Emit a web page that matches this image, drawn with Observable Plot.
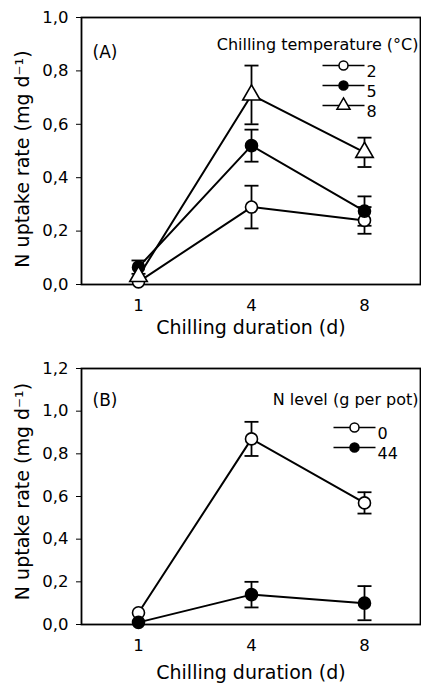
<!DOCTYPE html>
<html><head><meta charset="utf-8">
<script src="https://cdn.jsdelivr.net/npm/d3@7"></script>
<script src="https://cdn.jsdelivr.net/npm/@observablehq/plot@0.6"></script>
<style>body{margin:0;background:#fff} svg{display:block}</style>
</head><body><div id="chart"></div>
<script>
// ---- data ----
const durations = [1, 4, 8];
const xTitle = "Chilling duration (d)";
const yTitle = "N uptake rate (mg d\u207B\u00B9)";

// Panel A: chilling temperature (°C)
const panelALabel = "(A)";
const legendATitle = "Chilling temperature (°C)";
const tempLevels = ["2", "5", "8"];
const upA2 = [0.01, 0.29, 0.24];
const errA2 = [0.0, 0.08, 0.05];
const upA5 = [0.065, 0.52, 0.275];
const errA5 = [0.025, 0.06, 0.055];
const upA8 = [0.03, 0.71, 0.495];
const errA8 = [0.0, 0.11, 0.055];
const ticksA = [0, 0.2, 0.4, 0.6, 0.8, 1.0];

// Panel B: N level (g per pot)
const panelBLabel = "(B)";
const legendBTitle = "N level (g per pot)";
const nLevels = ["0", "44"];
const upB0 = [0.055, 0.87, 0.57];
const errB0 = [0.0, 0.08, 0.05];
const upB44 = [0.01, 0.14, 0.10];
const errB44 = [0.0, 0.06, 0.08];
const ticksB = [0, 0.2, 0.4, 0.6, 0.8, 1.0, 1.2];

// ---- drawing ----
const capSym = {draw(ctx) { ctx.moveTo(-7, 0); ctx.lineTo(7, 0); }};
const legLine = {draw(ctx) { ctx.moveTo(-21, 0); ctx.lineTo(21, 0); }};
const fmt = d => d.toFixed(1).replace(".", ",");

function panel(o) {
  const marks = [Plot.frame({stroke: "black", strokeWidth: 1.8})];
  o.series.forEach((s) => {
    const rows = durations.map((d, i) => ({d, v: s.v[i], lo: s.v[i] - s.e[i], hi: s.v[i] + s.e[i], e: s.e[i]}));
    const eb = rows.filter(r => r.e > 0);
    marks.push(
      Plot.ruleX(eb, {x: "d", y1: "lo", y2: "hi", stroke: "black", strokeWidth: 1.8}),
      Plot.dot(eb, {x: "d", y: "hi", symbol: capSym, stroke: "black", strokeWidth: 1.8}),
      Plot.dot(eb, {x: "d", y: "lo", symbol: capSym, stroke: "black", strokeWidth: 1.8}),
      Plot.line(rows, {x: "d", y: "v", stroke: "black", strokeWidth: 2})
    );
  });
  o.series.forEach((s, k) => {
    const rows = durations.map((d, i) => ({d, v: s.v[i]}));
    marks.push(Plot.dot(rows, {x: "d", y: "v", symbol: s.symbol, r: s.r, fill: s.fill, stroke: "black", strokeWidth: 1.6}));
    const dy = o.legDy0 + k * o.legStep;
    marks.push(
      Plot.dot([0], {frameAnchor: "top-right", dx: o.legDx, dy, symbol: legLine, stroke: "black", strokeWidth: 1.6}),
      Plot.dot([0], {frameAnchor: "top-right", dx: o.legDx, dy, symbol: s.symbol, r: s.r * 0.75, fill: s.fill, stroke: "black", strokeWidth: 1.5}),
      Plot.text([s.name], {text: d => d, frameAnchor: "top-right", dx: o.legDx + 23, dy, textAnchor: "start", fontSize: 16})
    );
  });
  marks.push(
    Plot.text([o.legTitle], {text: d => d, frameAnchor: "top-right", dx: -2, dy: o.legTitleDy, textAnchor: "end", fontSize: 16}),
    Plot.text([o.label], {text: d => d, frameAnchor: "top-left", dx: 11, dy: o.labelDy, textAnchor: "start", fontSize: 17}),
    Plot.text([xTitle], {text: d => d, frameAnchor: "bottom", dy: o.xTitleDy, textAnchor: "middle", fontSize: 19}),
    Plot.text([yTitle], {text: d => d, frameAnchor: "left", dx: -59, dy: o.yTitleDy, rotate: -90, textAnchor: "middle", fontSize: 19})
  );
  return Plot.plot({
    width: 421, height: 345,
    marginLeft: 81, marginRight: 1, marginTop: o.mt, marginBottom: o.mb,
    style: {fontFamily: "DejaVu Sans, Verdana, sans-serif", fontSize: "16.5px", color: "black", background: "white", overflow: "visible"},
    x: {type: "point", domain: durations, padding: 0.5, tickSize: 0, tickPadding: 15, label: null},
    y: {domain: [0, o.ymax], ticks: o.ticks, tickFormat: fmt, tickSize: 5, tickPadding: 8, label: null},
    marks
  });
}

const chart = document.getElementById("chart");
chart.appendChild(panel({
  series: [
    {name: tempLevels[0], v: upA2, e: errA2, symbol: "circle", fill: "white", r: 6},
    {name: tempLevels[1], v: upA5, e: errA5, symbol: "circle", fill: "black", r: 6},
    {name: tempLevels[2], v: upA8, e: errA8, symbol: "triangle", fill: "white", r: 6.5}
  ],
  ticks: ticksA, ymax: 1.0, mt: 17, mb: 61,
  label: panelALabel, labelDy: 28, legTitle: legendATitle, legTitleDy: 21, legDx: -77, legDy0: 48, legStep: 20,
  xTitleDy: 49, yTitleDy: 8
}));
chart.appendChild(panel({
  series: [
    {name: nLevels[0], v: upB0, e: errB0, symbol: "circle", fill: "white", r: 6},
    {name: nLevels[1], v: upB44, e: errB44, symbol: "circle", fill: "black", r: 6}
  ],
  ticks: ticksB, ymax: 1.2, mt: 23, mb: 66,
  label: panelBLabel, labelDy: 25, legTitle: legendBTitle, legTitleDy: 25, legDx: -66, legDy0: 59, legStep: 20,
  xTitleDy: 54, yTitleDy: -5
}));
</script></body></html>
